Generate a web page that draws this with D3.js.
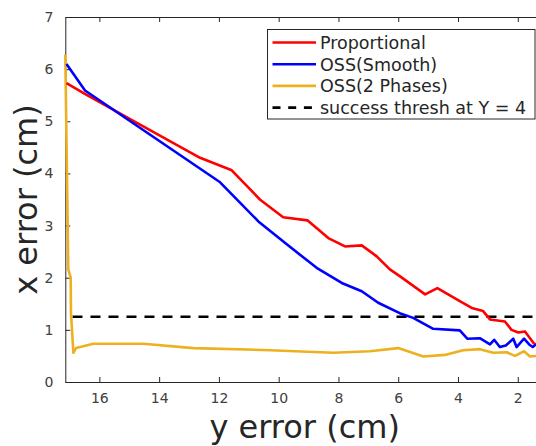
<!DOCTYPE html>
<html>
<head>
<meta charset="utf-8">
<script src="https://cdn.jsdelivr.net/npm/d3@7"></script>
<style>
  body { margin: 0; background: #fff; }
  text { font-family: "DejaVu Sans", sans-serif; }
</style>
</head>
<body>
<div class="chart"></div>
<script>
// series values: [y error, x error]
const proportional = [
  [17.1, 5.73], [16.5, 5.53], [15.0, 5.05], [12.63, 4.30], [11.57, 4.06],
  [10.63, 3.50], [9.85, 3.16], [9.04, 3.10], [8.34, 2.76], [7.78, 2.60],
  [7.22, 2.62], [6.72, 2.41], [6.28, 2.16], [5.95, 2.03], [5.10, 1.68],
  [4.69, 1.80], [3.94, 1.55], [3.54, 1.42], [3.16, 1.36], [2.93, 1.20],
  [2.43, 1.16], [2.21, 1.00], [1.98, 0.95], [1.76, 0.97], [1.59, 0.84],
  [1.46, 0.74], [1.39, 0.72]
];
const ossSmooth = [
  [17.1, 6.10], [16.48, 5.59], [11.96, 3.83], [10.68, 3.08], [9.73, 2.64],
  [8.73, 2.19], [7.89, 1.90], [7.22, 1.74], [6.67, 1.52], [5.95, 1.32],
  [5.50, 1.23], [4.83, 1.02], [3.94, 0.99], [3.69, 0.83], [3.27, 0.84],
  [2.93, 0.72], [2.79, 0.81], [2.60, 0.67], [2.40, 0.70], [2.15, 0.83],
  [2.04, 0.67], [1.79, 0.83], [1.62, 0.72], [1.50, 0.67], [1.39, 0.72]
];
const oss2Phases = [
  [17.14, 6.28], [17.04, 2.16], [16.96, 2.00], [16.95, 1.32], [16.87, 0.56],
  [16.78, 0.65], [16.2, 0.735], [14.53, 0.735], [12.86, 0.65], [10.29, 0.61],
  [8.17, 0.56], [6.95, 0.59], [6.0, 0.65], [5.16, 0.49], [4.44, 0.52],
  [3.83, 0.61], [3.27, 0.63], [2.82, 0.56], [2.37, 0.57], [2.09, 0.50],
  [1.79, 0.59], [1.59, 0.49], [1.39, 0.50]
];
const threshold = [[16.9, 1.25], [1.39, 1.25]];

const seriesNames = ["Proportional", "OSS(Smooth)", "OSS(2 Phases)", "success thresh at Y = 4"];
const xTicks = [16, 14, 12, 10, 8, 6, 4, 2];
const yTicks = [0, 1, 2, 3, 4, 5, 6, 7];

const svgWidth = 536;
const svgHeight = 446;
const margin = { top: 17, right: 0, bottom: 64, left: 65.3 };
const width = svgWidth - margin.left - margin.right;
const height = svgHeight - margin.top - margin.bottom;

const axisColor = "#262626";

const svg = d3.select(".chart")
  .append("svg")
  .attr("width", svgWidth)
  .attr("height", svgHeight);

const chartGroup = svg.append("g")
  .attr("transform", `translate(${margin.left}, ${margin.top})`);

// scales (x is reversed, right edge is cut off)
const xScale = d3.scaleLinear().domain([17.14, 1.39]).range([0, width]);
const yScale = d3.scaleLinear().domain([0, 7]).range([height, 0]);

// axes with inner ticks
const xAxis = d3.axisBottom(xScale).tickValues(xTicks).tickSizeInner(-5).tickSizeOuter(0)
  .tickPadding(11).tickFormat(d3.format("d"));
const xAxisTop = d3.axisTop(xScale).tickValues(xTicks).tickSizeInner(-5).tickSizeOuter(0).tickFormat("");
const yAxis = d3.axisLeft(yScale).tickValues(yTicks).tickSizeInner(-5).tickSizeOuter(0)
  .tickPadding(12).tickFormat(d3.format("d"));

function styleAxis(g) {
  g.select(".domain").attr("stroke", axisColor).attr("stroke-width", 1);
  g.selectAll(".tick line").attr("stroke", axisColor);
  g.selectAll(".tick text")
    .attr("fill", "#404040")
    .style("font-size", "14px")
    .style("font-family", "DejaVu Sans, sans-serif");
}

chartGroup.append("g")
  .attr("transform", `translate(0, ${height})`)
  .call(xAxis)
  .call(styleAxis);

chartGroup.append("g")
  .call(xAxisTop)
  .call(styleAxis);

chartGroup.append("g")
  .call(yAxis)
  .call(styleAxis);

// axis labels
svg.append("text")
  .attr("x", margin.left + width / 2 + 4)
  .attr("y", 438)
  .attr("text-anchor", "middle")
  .attr("fill", axisColor)
  .style("font-size", "32px")
  .text("y error (cm)");

svg.append("text")
  .attr("transform", `translate(37, ${margin.top + height / 2}) rotate(-90)`)
  .attr("text-anchor", "middle")
  .attr("fill", axisColor)
  .style("font-size", "32px")
  .text("x error (cm)");

// lines
const line = d3.line()
  .x(d => xScale(d[0]))
  .y(d => yScale(d[1]));

const lineStyles = [
  { data: proportional, color: "#ff0000", dash: null },
  { data: ossSmooth, color: "#0000ff", dash: null },
  { data: oss2Phases, color: "#edb120", dash: null },
  { data: threshold, color: "#000000", dash: "10,8" }
];

// draw order: threshold first, then series
[lineStyles[3], lineStyles[2], lineStyles[0], lineStyles[1]].forEach(s => {
  chartGroup.append("path")
    .datum(s.data)
    .attr("d", line)
    .attr("fill", "none")
    .attr("stroke", s.color)
    .attr("stroke-width", 2.6)
    .attr("stroke-linejoin", "round")
    .attr("stroke-dasharray", s.dash);
});

// legend
const legend = svg.append("g");
legend.append("rect")
  .attr("x", 267.5)
  .attr("y", 29.5)
  .attr("width", 267.5)
  .attr("height", 89.5)
  .attr("fill", "#fff")
  .attr("stroke", axisColor)
  .attr("stroke-width", 1);

seriesNames.forEach((name, i) => {
  const cy = 42.5 + i * 21.7;
  legend.append("line")
    .attr("x1", 272.5)
    .attr("x2", 316)
    .attr("y1", cy)
    .attr("y2", cy)
    .attr("stroke", lineStyles[i].color)
    .attr("stroke-width", 2.6)
    .attr("stroke-dasharray", i === 3 ? "8,7.7" : null);
  legend.append("text")
    .attr("x", 320)
    .attr("y", cy + 6.3)
    .attr("fill", axisColor)
    .style("font-size", "17.5px")
    .text(name);
});
</script>
</body>
</html>
